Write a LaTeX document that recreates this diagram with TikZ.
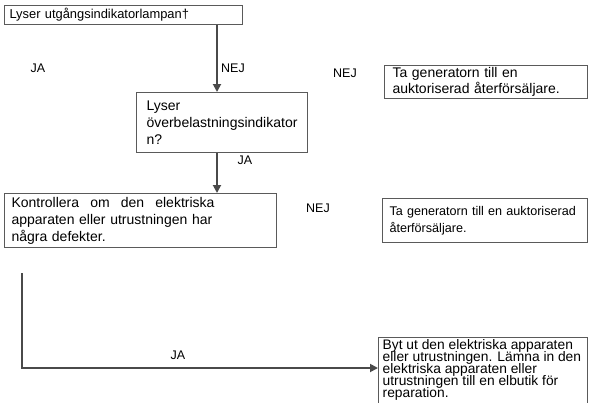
\documentclass[tikz,border=0pt]{standalone}
\usepackage{fontspec}
\setmainfont{Liberation Sans}
\usetikzlibrary{arrows.meta,positioning}
\definecolor{linegray}{HTML}{4A4A4A}
\definecolor{boxgray}{HTML}{5A5A5A}
\newcommand{\tightlines}{\lineskiplimit=-20pt\relax}

\begin{document}
\begin{tikzpicture}[
	x=1pt, y=-1pt,
	>={Triangle[length=8pt,width=8pt]},
	every node/.style={font=\fontsize{14}{17}\selectfont},
	box/.style={draw=boxgray, line width=1pt, anchor=north west, align=left, inner ysep=2pt},
	flow/.style={draw=linegray, line width=1.8pt, ->},
	lbl/.style={inner sep=0pt, font=\fontsize{12.5}{14}\selectfont}
	]
	
	\useasboundingbox (0,0) rectangle (591,402);
	\coordinate (spine) at (217,0);
	\coordinate (rightEdge) at (587,0);
	
	%--- questions ---
	\node[box, text width=228pt, inner xsep=5pt, minimum height=19pt,
	font=\fontsize{12.9}{15}\selectfont] (lamp) at (4,5)
	{Lyser utgångsindikatorlampan†};
	
	\node[box, text width=151pt, inner xsep=10pt, minimum height=60pt] (overload) at (136,92)
	{Lyser\\överbelastningsindikator\\n?};
	
	\node[box, text width=258pt, inner xsep=7pt, minimum height=54pt] (check) at (4,193)
	{
		\makebox[203pt]{Kontrollera\hfill om\hfill den\hfill elektriska}\\
		apparaten eller utrustningen har\\
		några defekter.
	};
	
	%--- answers ---
	\node[box, text width=187pt, inner xsep=8pt, minimum height=33pt,
	font=\fontsize{14}{16}\selectfont] (dealerA) at (384,65)
	{Ta generatorn till en\\auktoriserad återförsäljare.};
	
	\node[box, text width=191pt, inner xsep=7pt, minimum height=44pt,
	font=\fontsize{12.6}{17}\selectfont] (dealerB) at (382,198)
	{Ta generatorn till en auktoriserad\\återförsäljare.};
	
	\node[anchor=north west, align=left, inner xsep=4.5pt, inner ysep=2pt,
	font={\fontsize{13.8}{12}\selectfont\tightlines}] (repair) at (378,337)
	{Byt ut den elektriska apparaten\\eller utrustningen. Lämna in den\\elektriska apparaten eller\\utrustningen till en elbutik för\\reparation.};
	\draw[boxgray, line width=1pt] (repair.north west) ++(0,80) -- (repair.north west)
	-- (repair.north west -| rightEdge) -- ++(0,80);
	
	%--- connectors ---
	\draw[flow] (lamp.south -| spine) -- (overload.north -| spine);
	\draw[flow] (overload.south -| spine) -- (check.north -| spine);
	
	\coordinate (jaStart) at (22,273);
	\coordinate (bend) at (22,368);
	\draw[flow] (jaStart) -- (bend) -- (bend -| repair.west);
	
	%--- labels ---
	\node[lbl] (ja1) at (38,68) {JA};
	\node[lbl] (nej1) at (233,68) {NEJ};
	\node[lbl] (nej2) at (345,73) {NEJ};
	\node[lbl] (ja2) at (245,160) {JA};
	\node[lbl] (nej3) at (318,208) {NEJ};
	\node[lbl] (ja3) at (178,355) {JA};
	
\end{tikzpicture}
\end{document}
